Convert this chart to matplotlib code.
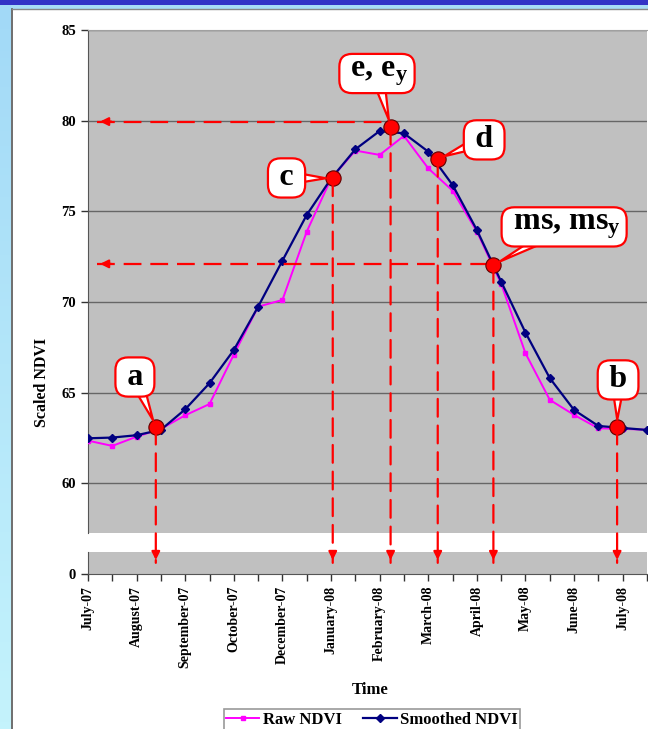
import numpy as np
import matplotlib
matplotlib.use("Agg")
import matplotlib.pyplot as plt
from matplotlib.patches import Rectangle, ConnectionPatch

plt.rcParams['font.family'] = ['Liberation Serif', 'DejaVu Serif']
plt.rcParams['font.weight'] = 'bold'
plt.rcParams['mathtext.fontset'] = 'custom'
plt.rcParams['mathtext.rm'] = 'Liberation Serif:bold'
plt.rcParams['mathtext.bf'] = 'Liberation Serif:bold'
plt.rcParams['mathtext.it'] = 'Liberation Serif:bold'

# =========================
# DATA
# =========================
months = ["July-07", "", "August-07", "", "September-07", "", "October-07", "",
          "December-07", "", "January-08", "", "February-08", "", "March-08", "",
          "April-08", "", "May-08", "", "June-08", "", "July-08", ""]

raw_ndvi = [62.35, 62.06, 62.57, 63.0, 63.75, 64.37, 67.1, 69.74, 70.11, 73.88,
            76.8, 78.35, 78.11, 79.16, 77.37, 76.14, 73.88, 71.0, 67.17, 64.6,
            63.77, 63.03, 63.0, 62.95]

smoothed_ndvi = [62.48, 62.52, 62.65, 62.95, 64.08, 65.52, 67.35, 69.74, 72.28, 74.8,
                 76.8, 78.42, 79.43, 79.3, 78.29, 76.45, 73.97, 71.12, 68.31, 65.8,
                 64.04, 63.16, 63.05, 62.94]

# phenology points: label, category position, value
point_names = ["a", "c", r"e, e$_\mathrm{y}$", "d", r"ms, ms$_\mathrm{y}$", "b"]
point_x = [2.79, 10.07, 12.45, 14.39, 16.68, 21.77]
point_y = [63.12, 76.82, 79.67, 77.89, 72.04, 63.12]
label_x = [1.93, 8.17, 11.89, 16.3, 19.59, 21.81]
label_y = [65.86, 76.84, 82.6, 78.94, 74.14, 65.7]

# levels of the horizontal read-off arrows (e_y and ms_y)
level_idx = [2, 4]
level_y = [79.95, 72.1]

x = np.arange(len(raw_ndvi))

# =========================
# FIGURE + SLIDE BACKGROUND
# =========================
W, H = 648, 729
fig = plt.figure(figsize=(W / 100, H / 100), dpi=100)
fig.patch.set_facecolor("white")

def px_rect(x0, y0, w, h, **kw):
    fig.add_artist(Rectangle((x0 / W, 1 - (y0 + h) / H), w / W, h / H,
                             transform=fig.transFigure, zorder=-5, **kw))

# left light-blue gradient strip
grad = np.linspace(0, 1, 100).reshape(-1, 1)
bg = fig.add_axes([0, 0, 11 / W, 1], zorder=-6)
bg.imshow(grad, aspect="auto", cmap=matplotlib.colors.LinearSegmentedColormap.from_list(
    "strip", ["#a2d9f7", "#c4f3fc"]), extent=[0, 1, 1, 0])
bg.axis("off")
px_rect(0, 0, W, 5, color="#3333c6", lw=0)
px_rect(11, 5, W, 4, color="#a8dcf6", lw=0)
fig.add_artist(plt.Line2D([12 / W, 12 / W], [0, 1 - 9 / H], transform=fig.transFigure,
                          color="#555555", lw=1.2))
fig.add_artist(plt.Line2D([12 / W, 1], [1 - 9 / H, 1 - 9 / H], transform=fig.transFigure,
                          color="#888888", lw=1.0))

# =========================
# AXES (broken y axis)
# =========================
left = 88 / W
width = 559 / W
ax = fig.add_axes([left, 1 - 533.3 / H, width, (533.3 - 30) / H])
ax_low = fig.add_axes([left, 1 - 574 / H, width, (574 - 551.7) / H], sharex=ax)

grey = "#c0c0c0"
for a_ in (ax, ax_low):
    a_.set_facecolor(grey)
    a_.spines["right"].set_visible(False)
    a_.spines["left"].set_color("#555555")
    a_.tick_params(colors="#333333", direction="out", length=5, width=1,
                   labelsize=10.5, labelcolor="black")

ax.spines["bottom"].set_visible(False)
ax.spines["top"].set_color("#a0a0a0")
ax_low.spines["top"].set_visible(False)
ax_low.spines["bottom"].set_color("#555555")

ax.set_ylim(57.24, 85)
ax.set_yticks([60, 65, 70, 75, 80, 85])
ax.yaxis.grid(True, color="#666666", lw=1)
ax.set_axisbelow(True)
ax.tick_params(axis="x", bottom=False, labelbottom=False)

ax_low.set_ylim(0, 1)
ax_low.set_yticks([0])
ax_low.set_xlim(0, 23)
ax_low.set_xticks(x)
ax_low.set_xticklabels(months, rotation=90, fontsize=10, va="top")

# =========================
# SERIES
# =========================
ax.plot(x, raw_ndvi, color="#ff00ff", lw=1.4, marker="s", ms=3.5, label="Raw NDVI", zorder=3)
ax.plot(x, smoothed_ndvi, color="#000080", lw=1.6, marker="D", ms=4, label="Smoothed NDVI", zorder=4)

dash = (0, (8, 4))

# vertical read-off arrows down to the time axis
for px, py in zip(point_x, point_y):
    fig.add_artist(ConnectionPatch((px, py), (px, 0.5), coordsA=ax.transData,
                                   coordsB=ax_low.transData, color="red", lw=1.6,
                                   linestyle=dash, zorder=5))
    ax_low.annotate("", xy=(px, 0.5), xytext=(0, 10), textcoords="offset points",
                    arrowprops=dict(arrowstyle="-|>", color="red", lw=1.6, mutation_scale=12),
                    zorder=6)

# horizontal read-off arrows to the NDVI axis
for i, ly in zip(level_idx, level_y):
    ax.plot([0.38, point_x[i]], [ly, ly], color="red", lw=1.6, linestyle=dash, zorder=5)
    ax.annotate("", xy=(0.38, ly), xytext=(12, 0), textcoords="offset points",
                arrowprops=dict(arrowstyle="-|>", color="red", lw=1.6, mutation_scale=12),
                zorder=6)

# highlighted points
ax.plot(point_x, point_y, "o", color="red", mec="#600000", mew=0.8, ms=11, zorder=8,
        clip_on=False)

# callouts
for name, px, py, lx, ly in zip(point_names, point_x, point_y, label_x, label_y):
    ax.annotate("\u2009" + name + "\u2009", xy=(px, py), xytext=(lx, ly), ha="center",
                va="center", fontsize=23, fontweight="bold", zorder=9,
                bbox=dict(boxstyle="round,pad=0.16,rounding_size=0.4", fc="white",
                          ec="red", lw=1.6),
                arrowprops=dict(arrowstyle="wedge,tail_width=0.4,shrink_factor=0.5",
                                fc="white", ec="red", lw=1.6, patchA=None,
                                shrinkB=5))

# =========================
# LABELS + LEGEND
# =========================
fig.text(42 / W, 1 - 382 / H, "Scaled NDVI", rotation=90, ha="center", va="center",
         fontsize=11.5, fontweight="bold")
fig.text(370 / W, 1 - 690 / H, "Time", ha="center", va="center", fontsize=12,
         fontweight="bold")

leg = fig.legend(*ax.get_legend_handles_labels(), loc="upper center",
                 bbox_to_anchor=(372 / W, 1 - 701 / H), ncol=2, fontsize=12,
                 frameon=True, fancybox=False, edgecolor="#808080", handlelength=2.0,
                 columnspacing=1.3, handletextpad=0.2, borderpad=0.15)
leg.get_frame().set_linewidth(1.2)

fig.savefig("out.png", dpi=100)
